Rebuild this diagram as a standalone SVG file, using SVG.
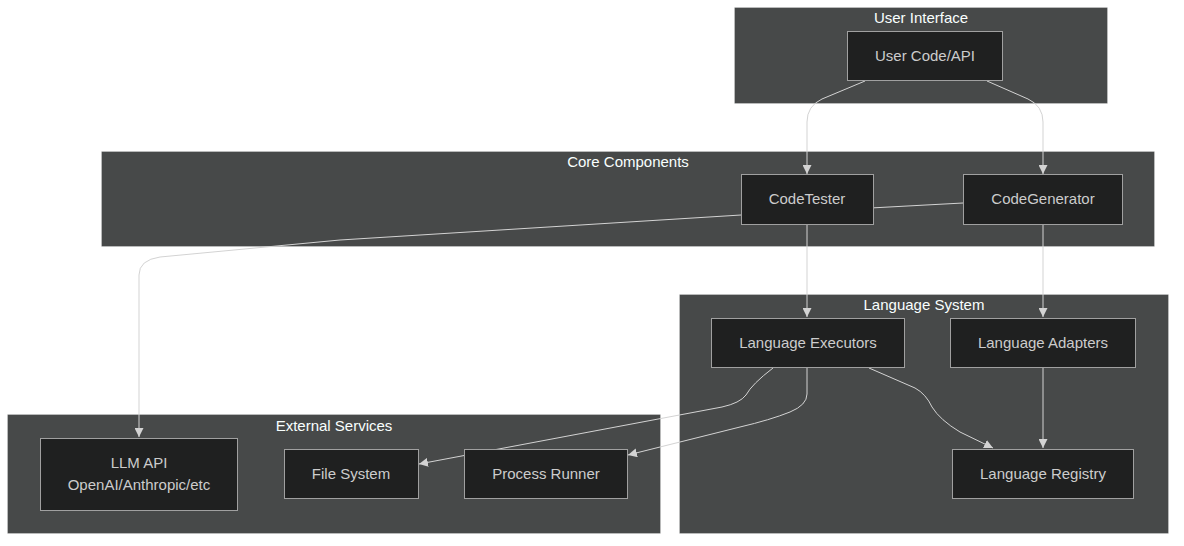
<svg xmlns="http://www.w3.org/2000/svg" width="1184" height="546" viewBox="0 0 1184 546">
<style>
.cluster rect{fill:#474949;stroke:rgba(255,255,255,0.25);stroke-width:1}
.ctitle{fill:#F9FFFE;font-family:"Liberation Sans",Arial,sans-serif;font-size:15px;text-anchor:middle}
.node rect{fill:#1f2020;stroke:#a0a0a0;stroke-width:1}
.node text{fill:#ccc;font-family:"Liberation Sans",Arial,sans-serif;font-size:15px;text-anchor:middle;dominant-baseline:central}
.edge{fill:none;stroke:#d3d3d3;stroke-width:1}
</style>
<defs>
<marker id="arr" viewBox="0 0 10 10" refX="10" refY="5" markerWidth="9" markerHeight="9" markerUnits="userSpaceOnUse" orient="auto">
<path d="M0,0 L10,5 L0,10 z" fill="#d3d3d3"/>
</marker>
</defs>
<rect width="1184" height="546" fill="#fff"/>
<g id="clusters">
<g id="cluster-ui" class="cluster"><rect x="734.5" y="7.5" width="373" height="96"/><text class="ctitle" x="921" y="23">User Interface</text></g>
<g id="cluster-core" class="cluster"><rect x="101.5" y="151.5" width="1053" height="95"/><text class="ctitle" x="628" y="167">Core Components</text></g>
<g id="cluster-lang" class="cluster"><rect x="679.5" y="294.5" width="489" height="239"/><text class="ctitle" x="924" y="310">Language System</text></g>
<g id="cluster-ext" class="cluster"><rect x="7.5" y="414.5" width="653" height="119"/><text class="ctitle" x="334" y="431">External Services</text></g>
</g>
<g id="connectors">
<path class="edge" d="M963,203 L741,215 L340,240 L160,257 Q139,260 139,275 L139,437" marker-end="url(#arr)"/>
<path class="edge" d="M865,81 L822,99 Q807,106 807,122 L807,174" marker-end="url(#arr)"/>
<path class="edge" d="M987,81 L1028,99 Q1043,106 1043,122 L1043,174" marker-end="url(#arr)"/>
<path class="edge" d="M807,224 L807,317" marker-end="url(#arr)"/>
<path class="edge" d="M1043,224 L1043,317" marker-end="url(#arr)"/>
<path class="edge" d="M1043,367 L1043,448" marker-end="url(#arr)"/>
<path class="edge" d="M869,368 L915,388 Q926,394 932,407 Q940,420 960,432 L993,448" marker-end="url(#arr)"/>
<path class="edge" d="M773,368 Q752,384 746,395 Q740,403 722,407 L419,464" marker-end="url(#arr)"/>
<path class="edge" d="M807,368 L807,394 Q807,405 790,412 Q770,420 740,427 L628,455" marker-end="url(#arr)"/>
</g>
<g id="node-usercode" class="node"><rect x="847.5" y="31.5" width="155" height="49"/><text x="925" y="55">User Code/API</text></g>
<g id="node-codetester" class="node"><rect x="741.5" y="174.5" width="132" height="50"/><text x="807" y="198">CodeTester</text></g>
<g id="node-codegenerator" class="node"><rect x="963.5" y="174.5" width="159" height="50"/><text x="1043" y="198">CodeGenerator</text></g>
<g id="node-langexec" class="node"><rect x="711.5" y="318.5" width="193" height="49"/><text x="808" y="342">Language Executors</text></g>
<g id="node-langadapt" class="node"><rect x="950.5" y="318.5" width="185" height="49"/><text x="1043" y="342">Language Adapters</text></g>
<g id="node-langreg" class="node"><rect x="952.5" y="449.5" width="181" height="49"/><text x="1043" y="473">Language Registry</text></g>
<g id="node-llm" class="node"><rect x="40.5" y="438.5" width="197" height="72"/><text x="139" y="462">LLM API</text><text x="139" y="484">OpenAI/Anthropic/etc</text></g>
<g id="node-fs" class="node"><rect x="284.5" y="449.5" width="134" height="49"/><text x="351" y="473">File System</text></g>
<g id="node-proc" class="node"><rect x="464.5" y="449.5" width="163" height="49"/><text x="546" y="473">Process Runner</text></g>
</svg>
